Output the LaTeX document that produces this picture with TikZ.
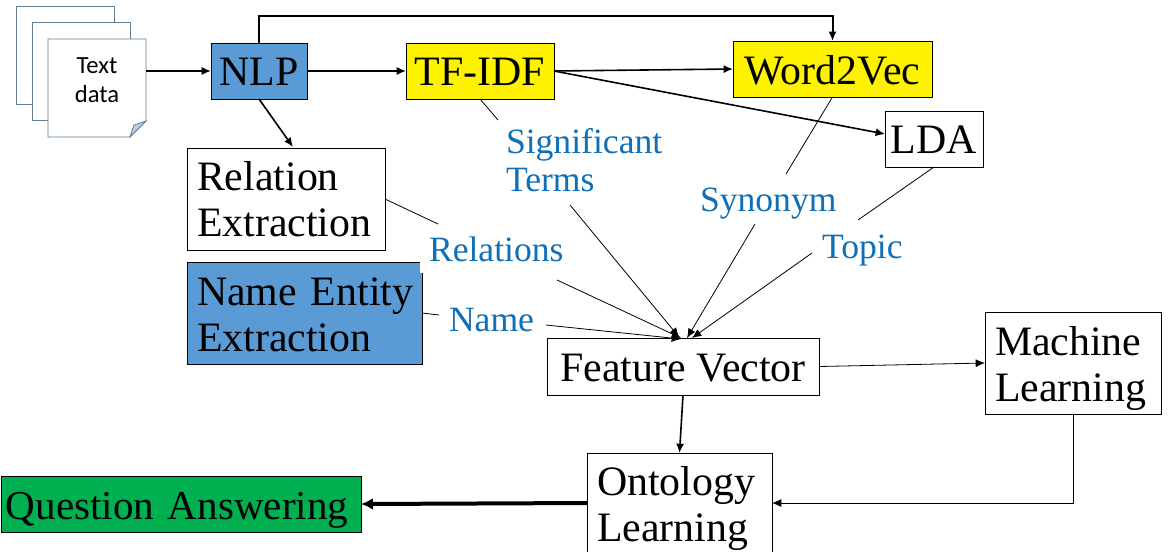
\documentclass[tikz,border=0pt]{standalone}
\usepackage{fontspec}
\setmainfont{Liberation Serif}
\newfontfamily\calibrifont{Carlito}
\usetikzlibrary{arrows.meta}
\definecolor{boxblue}{HTML}{5B9BD5}
\definecolor{labelblue}{HTML}{0F70B7}
\definecolor{docline}{HTML}{5F7F95}
\definecolor{qagreen}{HTML}{00B050}
\definecolor{foldfill}{HTML}{C5CDD8}
\tikzset{
  sz/.style 2 args={minimum width=#1*0.75pt,minimum height=#2*0.75pt},
  bl/.style={text depth=0pt,text height=#1*1.5pt},
  blup/.style={text height=0pt,text depth=#1*1.5pt},
  box/.style={draw=black,line width=0.75pt,outer sep=0pt,inner sep=0pt,align=center,text=black,
    font=\fontsize{31.4}{34.5}\selectfont},
  leftbox/.style={box,align=left,text width=#1*0.75pt},
  lab/.style={anchor=base west,inner sep=0pt,outer sep=0pt,text=labelblue,align=left,
    font=\fontsize{26.7}{28.5}\selectfont},
  doc/.style={draw=docline,line width=0.6pt,fill=white},
  thin/.style={draw=black,line width=0.6pt},
  thinarr/.style={thin,-{Latex[length=7pt,width=6pt]}},
  medarr/.style={draw=black,line width=1.2pt,-{Latex[length=7pt,width=6pt]}},
}
\begin{document}
\begin{tikzpicture}[x=0.75pt,y=-0.75pt]
\clip (0,0) rectangle (1169,551);
\fill[white] (0,0) rectangle (1169,551);
% documents
\draw[doc] (16,6) rectangle (114,104);
\draw[doc] (32,22) rectangle (130,120);
\draw[doc] (48,39) -- (146,39) -- (146,121) -- (130,137) -- (48,137) -- cycle;
\draw[doc,fill=foldfill] (130,137) -- (134,125) -- (146,121) -- cycle;
\node[inner sep=0pt,outer sep=0pt,align=center,font=\calibrifont\fontsize{18.5}{22}\selectfont] (text) at (97,80) {Text\\data};
\coordinate (docE) at (146,71);
% boxes
\node[box,sz={96}{56},fill=boxblue,bl=14] (nlp) at (259,71) {NLP};
\node[box,sz={148}{56},fill=yellow,bl=14] (tfidf) at (480,71) {TF-IDF};
\node[box,sz={199}{56},fill=yellow,bl=15] (w2v) at (832.5,69) {Word2Vec};
\node[box,sz={98}{56},bl=14] (lda) at (934,139) {LDA};
\node[leftbox=178,sz={198}{102},blup=9] (rel) at (286,199) {Relation\\Extraction};
\node[leftbox=215,sz={235}{102},fill=boxblue,blup=8] (ne) at (304.5,313) {\mbox{Name Entity}\\Extraction};
\fill[white] (419.6,260) rectangle (425,272.6);
\node[box,sz={272}{57},bl=14.5] (fv) at (683,366.5) {Feature Vector};
\node[leftbox=156,sz={176}{102},blup=8] (ml) at (1073,363) {Machine\\Learning};
\node[leftbox=165,sz={185}{100},blup=8] (ol) at (679.5,503) {Ontology\\Learning};
\node[leftbox=350,sz={360}{56},fill=qagreen,bl=15,font=\fontsize{30.8}{34.5}\selectfont] (qa) at (181,504) {Question Answering};
% labels
\node[lab] (sig) at (506,191) {Significant\\Terms};
\node[lab] (syn) at (700,211) {Synonym};
\node[lab] (top) at (822,258) {Topic};
\node[lab] (rels) at (429,261) {Relations};
\node[lab] (nam) at (449,331) {Name};
% free ends
\coordinate (top1) at (259,16);
\coordinate (ldaW) at (885,134);
\coordinate (relN) at (293,147);
\coordinate (sigA) at (498,120);
\coordinate (sigB) at (570,205);
\coordinate (synA) at (786,174);
\coordinate (synB) at (755,224);
\coordinate (topA) at (858,220);
\coordinate (topB) at (812,253);
\coordinate (relsA) at (438,224);
\coordinate (relsB) at (557,280);
\coordinate (namA) at (439,315);
\coordinate (namB) at (546,325);
\coordinate (fvSig) at (679,337);
\coordinate (fvSyn) at (687,338);
\coordinate (fvTop) at (692,338);
\coordinate (fvRel) at (681,338);
\coordinate (fvNam) at (681,339);
\coordinate (w2vW) at (733,69);
\coordinate (tfE) at (554,71);
\coordinate (mlW) at (985,363);
% connectors
\draw[medarr] (docE) -- (nlp.west);
\draw[medarr] (nlp.east) -- (tfidf.west);
\draw[medarr] (tfE) -- (w2vW);
\draw[medarr] (tfE) -- (ldaW);
\draw[medarr] (nlp.south) -- (relN);
\draw[medarr,line width=1.5pt] (nlp.north) -- (top1) -| (w2v.north);
\draw[thin] (tfidf.south) -- (sigA);
\draw[thinarr] (sigB) -- (fvSig);
\draw[thin] (w2v.south) -- (synA);
\draw[thinarr] (synB) -- (fvSyn);
\draw[thin] (lda.south) -- (topA);
\draw[thinarr] (topB) -- (fvTop);
\draw[thin] (rel.east) -- (relsA);
\draw[thinarr] (relsB) -- (fvRel);
\draw[thin] (ne.east) -- (namA);
\draw[thinarr] (namB) -- (fvNam);
\draw[thinarr] (fv.east) -- (mlW);
\draw[medarr] (fv.south) -- (ol.north);
\draw[thinarr] (ml.south) |- (ol.east);
\draw[draw=black,line width=3pt,-{Latex[length=9pt,width=9pt]}] (ol.west) -- (qa.east);
\end{tikzpicture}
\end{document}
